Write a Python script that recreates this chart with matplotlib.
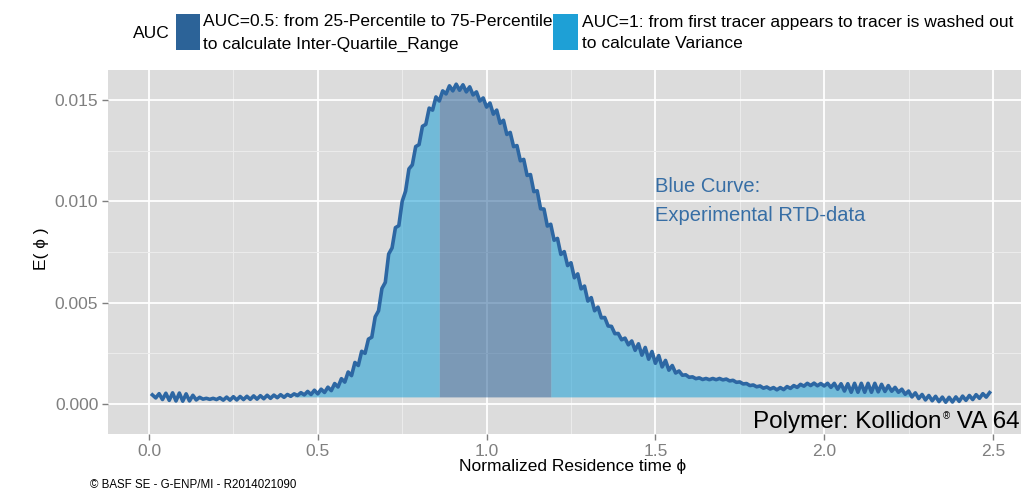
import numpy as np
import matplotlib
matplotlib.use("Agg")
import matplotlib.pyplot as plt
from matplotlib.patches import Rectangle
from matplotlib.transforms import offset_copy

plt.rcParams['font.family'] = ['Liberation Sans', 'DejaVu Sans']

# Messwerte E(phi), alle 0.01 von phi=0.01 bis 2.49, Einheit 1e-4
phi = np.round(np.arange(1, 250) / 100, 2)
e_phi_1e4 = [
    4.5, 3.0, 5.1, 2.2, 5.3, 1.8, 5.5, 1.5, 5.4, 1.4,            # 0.01-0.10
    5.0, 1.5, 4.3, 2.0, 3.3, 2.4, 2.8, 2.3, 2.8, 2.2,            # 0.11-0.20
    3.1, 1.9, 3.4, 1.9, 3.6, 2.0, 3.7, 2.2, 3.8, 2.3,            # 0.21-0.30
    4.0, 2.4, 4.1, 2.6, 4.3, 2.8, 4.4, 3.1, 4.6, 3.3,            # 0.31-0.40
    4.7, 3.8, 5.0, 4.2, 5.6, 4.5, 6.2, 4.7, 6.8, 5.0,            # 0.41-0.50
    7.3, 5.7, 8.3, 6.6, 10.1, 8.4, 12.5, 10.8, 15.8, 14.0,       # 0.51-0.60
    20.5, 19.0, 26.0, 25.0, 32.0, 33.0, 43.0, 46.0, 57.0, 60.0,  # 0.61-0.70
    74, 77, 87, 88, 100, 105, 116, 118, 127, 128,                # 0.71-0.80
    137, 138, 146, 145, 151.5, 149.5, 154.5, 153, 157, 154.5,    # 0.81-0.90
    157.8, 154.8, 157.5, 154, 156.5, 152.5, 154, 149.5, 151, 146.5,  # 0.91-1.00
    148.5, 143, 145, 138.5, 140, 133, 134, 127, 127.5, 120,      # 1.01-1.10
    120.7, 112.8, 113.2, 104.8, 105.2, 96.3, 96.2, 87.8, 88.7, 80.8,  # 1.11-1.20
    81.7, 73.8, 75.2, 68.3, 69.7, 62.3, 64.2, 56.8, 58.2, 50.8,  # 1.21-1.30
    52.5, 46.0, 47.8, 42.5, 42.7, 38.5, 38.3, 34.7, 34.8, 31.7,  # 1.31-1.40
    32.5, 29.2, 31.1, 26.5, 29.7, 24.1, 27.9, 22.1, 25.9, 20.1,  # 1.41-1.50
    23.9, 18.3, 21.5, 16.7, 19.0, 15.3, 16.3, 14.2, 14.4, 13.2,  # 1.51-1.60
    13.4, 12.5, 12.9, 12.1, 12.6, 12.0, 12.6, 12.0, 12.6, 11.9,  # 1.61-1.70
    12.3, 11.4, 11.7, 10.7, 10.9, 9.9, 10.1, 9.1, 9.4, 8.5,      # 1.71-1.80
    8.9, 7.8, 8.4, 7.4, 8.1, 7.0, 8.1, 7.1, 8.6, 7.7,            # 1.81-1.90
    9.1, 8.2, 9.7, 8.8, 10.2, 9.1, 10.3, 9.0, 10.1, 8.9,         # 1.91-2.00
    10.2, 8.2, 10.2, 7.3, 10.0, 6.4, 10.0, 5.8, 10.2, 5.8,       # 2.01-2.10
    10.2, 5.8, 10.2, 5.8, 10.2, 6.0, 9.7, 6.2, 9.1, 6.3,         # 2.11-2.20
    8.2, 5.8, 7.3, 4.8, 6.4, 3.5, 5.5, 2.7, 4.7, 2.0,            # 2.21-2.30
    4.2, 1.6, 3.8, 1.2, 3.4, 0.9, 3.3, 1.0, 3.5, 1.3,            # 2.31-2.40
    3.9, 1.8, 4.2, 2.2, 4.6, 2.8, 5.1, 3.4, 5.6,                 # 2.41-2.49
]
e_phi = np.array(e_phi_1e4) * 1e-4

# Flaechen (AUC)
auc_base = 0.00035
auc_start, auc_end = 0.43, 2.26   # AUC=1
iqr_start, iqr_end = 0.86, 1.19   # AUC=0.5 (25%-75%)

x_ticks = [0.0, 0.5, 1.0, 1.5, 2.0, 2.5]
x_ticklabels = ["0.0", "0.5", "1.0", "1.5", "2.0", "2.5"]
y_ticks = [0.0, 0.005, 0.010, 0.015]
y_ticklabels = ["0.000", "0.005", "0.010", "0.015"]

col_line = "#2d67a3"
col_iqr = "#2c6398"
col_auc = "#1ea0d6"
col_panel = "#dcdcdc"
col_axtext = "#7f7f7f"

W, H = 1021, 488


def fx(px):
    return px / W


def fy(py):
    return (H - py) / H


fig = plt.figure(figsize=(W / 100, H / 100), dpi=100)
ax = fig.add_axes([fx(108), fy(434), fx(W - 108), (434 - 70) / H])
ax.set_facecolor(col_panel)
for s in ax.spines.values():
    s.set_visible(False)

ax.set_xlim(-0.1214, 2.583)
ax.set_ylim(-0.00148, 0.01648)
ax.set_xticks(x_ticks)
ax.set_xticklabels(x_ticklabels)
ax.set_yticks(y_ticks)
ax.set_yticklabels(y_ticklabels)
ax.set_xticks([0.25, 0.75, 1.25, 1.75, 2.25], minor=True)
ax.set_yticks([0.0025, 0.0075, 0.0125], minor=True)
ax.tick_params(which='major', length=4, width=1, color=col_axtext,
               labelcolor=col_axtext, labelsize=12.5, pad=3)
ax.tick_params(which='minor', length=0)
ax.grid(which='major', color='white', lw=1.3)
ax.grid(which='minor', color='#ececec', lw=0.7)
ax.set_axisbelow(True)

# Flaechen
m1 = (phi >= auc_start) & (phi <= iqr_start)
m2 = (phi >= iqr_end) & (phi <= auc_end)
m_iqr = (phi >= iqr_start) & (phi <= iqr_end)
ax.fill_between(phi, auc_base, e_phi, where=m1, color=col_auc, alpha=0.56, lw=0, zorder=2)
ax.fill_between(phi, auc_base, e_phi, where=m2, color=col_auc, alpha=0.56, lw=0, zorder=2)
ax.fill_between(phi, auc_base, e_phi, where=m_iqr, color=col_iqr, alpha=0.55, lw=0, zorder=2)

# Messkurve
ax.plot(phi, e_phi, color=col_line, lw=2.6, zorder=3, solid_joinstyle='round')

ax.text(1.5, 0.01071, "Blue Curve:", color="#376ea5", fontsize=14.5, va='center', ha='left')
ax.text(1.5, 0.00928, "Experimental RTD-data", color="#376ea5", fontsize=14.5, va='center', ha='left')

# Polymer-Beschriftung mit kleinem hochgestelltem ®
fig.canvas.draw()
renderer = fig.canvas.get_renderer()
t1 = ax.text(1.789, -0.00118, "Polymer: Kollidon", color='black',
             fontsize=17.5, va='baseline', ha='left', zorder=4)
w1 = t1.get_window_extent(renderer).width
t2 = ax.text(1.789, -0.00118, "®", color='black', fontsize=7,
             va='baseline', ha='left', zorder=4,
             transform=offset_copy(ax.transData, fig=fig, x=w1 + 1, y=9, units='dots'))
w2 = t2.get_window_extent(renderer).width
ax.text(1.789, -0.00118, " VA 64", color='black', fontsize=17.5,
        va='baseline', ha='left', zorder=4,
        transform=offset_copy(ax.transData, fig=fig, x=w1 + w2 + 1, y=0, units='dots'))

# Achsentitel
fig.text(fx(573), fy(467), "Normalized Residence time ϕ", ha='center', va='center', fontsize=12.5)
fig.text(fx(41), fy(249), "E( ϕ )", ha='center', va='center', rotation=90, fontsize=12.5)

# Legende oben
fig.text(fx(133), fy(33), "AUC", ha='left', va='center', fontsize=12.5)
fig.add_artist(Rectangle((fx(176), fy(50)), fx(24), (50 - 14) / H,
                         transform=fig.transFigure, color=col_iqr, lw=0))
fig.add_artist(Rectangle((fx(553), fy(50)), fx(25), (50 - 14) / H,
                         transform=fig.transFigure, color=col_auc, lw=0))
fig.text(fx(203), fy(22), "AUC=0.5: from 25-Percentile to 75-Percentile", ha='left', va='center', fontsize=12.5)
fig.text(fx(203), fy(44), "to calculate Inter-Quartile_Range", ha='left', va='center', fontsize=12.5)
fig.text(fx(582), fy(22), "AUC=1: from first tracer appears to tracer is washed out", ha='left', va='center', fontsize=12.5)
fig.text(fx(582), fy(44), "to calculate Variance", ha='left', va='center', fontsize=12.5)

fig.text(fx(90), fy(488), "© BASF SE - G-ENP/MI - R2014021090", ha='left', va='baseline', fontsize=8.3)

fig.savefig("out.png", dpi=100)
